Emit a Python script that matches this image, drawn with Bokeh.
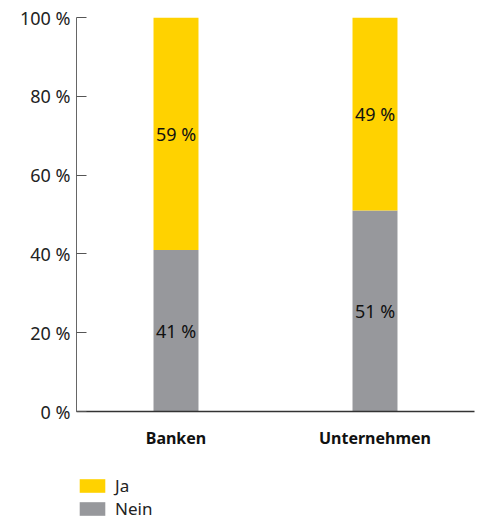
from bokeh.plotting import figure
from bokeh.layouts import column
from bokeh.models import FactorRange, Range1d, Legend, LegendItem, ColumnDataSource, FixedTicker
from bokeh.core.properties import value
from bokeh.embed import file_html
from bokeh.resources import INLINE

categories = ["Banken", "Unternehmen"]
nein = [41, 51]
ja = [59, 49]
y_ticks = [0, 20, 40, 60, 80, 100]
y_tick_labels = ["0 %", "20 %", "40 %", "60 %", "80 %", "100 %"]
series_names = ["Ja", "Nein"]

YELLOW = "#FFD200"
GRAY = "#97989C"
FONT = "Noto Sans"

src = ColumnDataSource(dict(cat=categories, nein=nein, ja=ja))

p = figure(x_range=FactorRange(*categories, range_padding=0), y_range=Range1d(0, 100),
           width=479, height=463, output_backend="svg", toolbar_location=None,
           min_border_left=76, min_border_right=5, min_border_top=17, min_border_bottom=52)
p.outline_line_color = None
p.grid.visible = False

r = p.vbar_stack(["nein", "ja"], x="cat", width=0.226, source=src,
                 color=[GRAY, YELLOW], line_width=0)

nein_mid = [v / 2 for v in nein]
ja_mid = [n + j / 2 for n, j in zip(nein, ja)]
lab = ColumnDataSource(dict(
    x=categories + categories,
    y=nein_mid + ja_mid,
    t=[f"{v} %" for v in nein] + [f"{v} %" for v in ja]))
p.text(x="x", y="y", text="t", source=lab, text_align="center", text_baseline="middle",
       text_font=value(FONT), text_font_size="18px", text_color="#111111")

ya = p.yaxis[0]
ya.ticker = FixedTicker(ticks=y_ticks)
ya.major_label_overrides = {t: l for t, l in zip(y_ticks, y_tick_labels)}
ya.major_tick_in = 10
ya.major_tick_out = 0
ya.minor_tick_line_color = None
ya.axis_line_color = "#666666"
ya.major_tick_line_color = "#555555"
ya.major_label_text_font = FONT
ya.major_label_text_font_size = "18px"
ya.major_label_text_color = "#222222"
ya.major_label_standoff = 6

xa = p.xaxis[0]
xa.major_tick_line_color = None
xa.minor_tick_line_color = None
xa.axis_line_color = "#333333"
xa.axis_line_width = 1.5
xa.major_label_text_font = FONT
xa.major_label_text_font_size = "16px"
xa.major_label_text_font_style = "bold"
xa.major_label_text_color = "#111111"
xa.major_label_standoff = 9

# legend figure (proxy renderers carry no visible data)
lf = figure(width=479, height=60, output_backend="svg", toolbar_location=None,
            min_border=0, x_range=Range1d(0, 1), y_range=Range1d(0, 1),
            x_axis_location=None, y_axis_location=None)
lf.outline_line_color = None
lf.grid.visible = False
proxy = ColumnDataSource(dict(x=[float("nan")], top=[float("nan")]))
r_ja = lf.vbar(x="x", top="top", width=0.1, source=proxy, color=YELLOW, line_width=0)
r_nein = lf.vbar(x="x", top="top", width=0.1, source=proxy, color=GRAY, line_width=0)

legend = Legend(items=[LegendItem(label=series_names[0], renderers=[r_ja]),
                       LegendItem(label=series_names[1], renderers=[r_nein])],
                location=(0, 3), orientation="vertical",
                border_line_color=None, background_fill_alpha=0,
                padding=0, margin=0, spacing=0,
                glyph_width=32, glyph_height=17, label_height=17,
                label_standoff=7, label_text_font=FONT,
                label_text_font_size="17px", label_text_color="#222222")
lf.add_layout(legend, "center")

layout = column(p, lf, spacing=0)
open("out.html", "w").write(file_html(layout, INLINE))
